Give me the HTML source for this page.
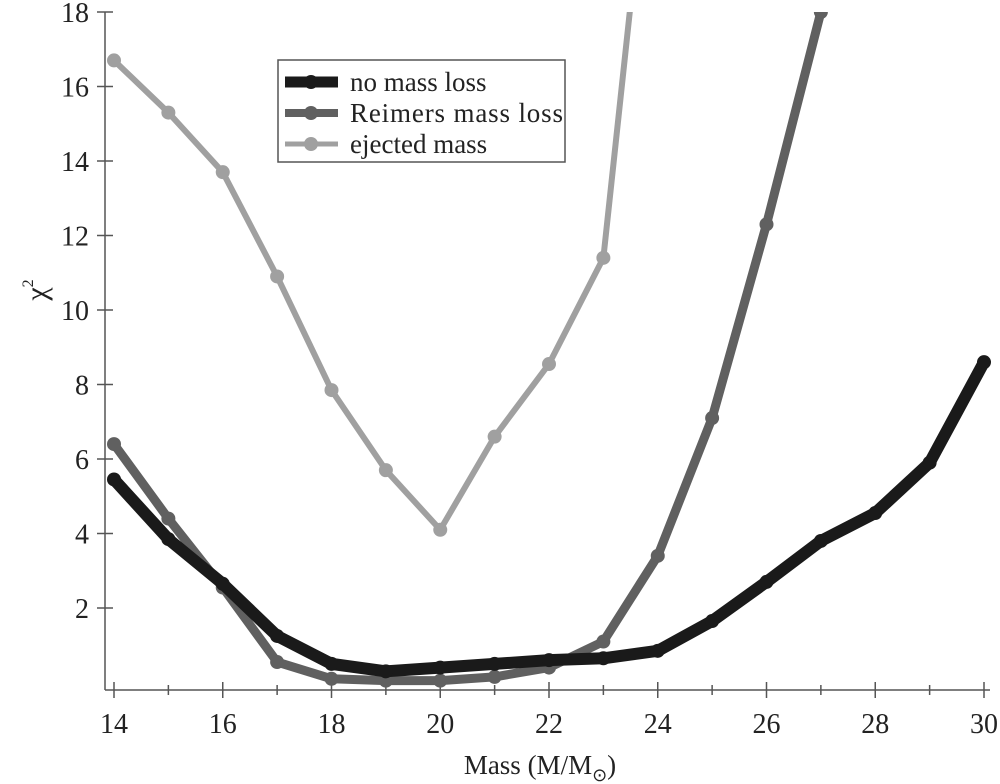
<!DOCTYPE html>
<html><head><meta charset="utf-8"><style>
html,body{margin:0;padding:0;background:#fff}
svg{display:block}
text{font-family:"Liberation Serif",serif;fill:#222}
</style></head><body>
<svg id="chart" width="1000" height="784" viewBox="0 0 1000 784" xmlns="http://www.w3.org/2000/svg">
<defs><clipPath id="plotclip"><rect x="100" y="12" width="900" height="690"/></clipPath></defs>
<g id="axes"></g>
<g id="series" clip-path="url(#plotclip)"></g>
<text x="0" y="0" font-size="30" text-anchor="middle" transform="translate(46,290) rotate(-90)">χ<tspan font-size="16" dy="-13">2</tspan></text>
<text x="540" y="774" font-size="27" text-anchor="middle">Mass (M/M<tspan font-size="18" dy="7">⊙</tspan><tspan dy="-7">)</tspan></text>
<g>
<rect x="278" y="60" width="287" height="102" fill="#fff" stroke="#555" stroke-width="1.5"/>
<g>
<line x1="285" y1="82" x2="338" y2="82" stroke="#1a1a1a" stroke-width="11"/><circle cx="311" cy="82" r="7" fill="#1a1a1a"/>
<text x="350" y="91" font-size="27">no mass loss</text></g>
<g>
<line x1="285" y1="113" x2="338" y2="113" stroke="#606060" stroke-width="8"/><circle cx="311" cy="113" r="7" fill="#606060"/>
<text x="350" y="122" font-size="27" textLength="213">Reimers mass loss</text></g>
<g>
<line x1="285" y1="144" x2="338" y2="144" stroke="#a0a0a0" stroke-width="5"/><circle cx="311" cy="144" r="7" fill="#a0a0a0"/>
<text x="350" y="153" font-size="27">ejected mass</text></g>
</g>
</svg>
<script>
const masses = [14,15,16,17,18,19,20,21,22,23,24,25,26,27,28,29,30];
const noMassLoss = [5.45,3.85,2.65,1.25,0.5,0.3,0.4,0.5,0.6,0.65,0.85,1.65,2.7,3.8,4.55,5.9,8.6];
const reimersMasses = [14,15,16,17,18,19,20,21,22,23,24,25,26,27,28];
const reimers = [6.4,4.4,2.55,0.55,0.1,0.05,0.05,0.15,0.4,1.1,3.4,7.1,12.3,18.0,24.0];
const ejectedMasses = [14,15,16,17,18,19,20,21,22,23,24];
const ejected = [16.7,15.3,13.7,10.9,7.85,5.7,4.1,6.6,8.55,11.4,25.0];
const xTicks = [14,16,18,20,22,24,26,28,30];
const xMinorTicks = [15,17,19,21,23,25,27,29];
const yTicks = [2,4,6,8,10,12,14,16,18];

const NS = "http://www.w3.org/2000/svg";
const X = v => 114 + (v - 14) * 54.375;
const Y = v => 682.5 - v * 37.25;
function mk(tag, attrs, parent){ const e=document.createElementNS(NS,tag); for(const k in attrs) e.setAttribute(k,attrs[k]); parent.appendChild(e); return e; }

const axes = document.getElementById('axes');
const ya = mk('line',{x1:105,y1:12,x2:105,y2:690,stroke:'#555','stroke-width':1.5},axes);


const xa = mk('line',{x1:105,y1:690,x2:990,y2:690,stroke:'#555','stroke-width':1.5},axes);


yTicks.forEach(t=>{
  const l = mk('line',{x1:97,y1:Y(t),x2:113,y2:Y(t),stroke:'#555','stroke-width':1.5},axes);
  
  
  const tx = mk('text',{x:89,y:Y(t)+10,'font-size':28,'text-anchor':'end'},axes);
  tx.textContent = t;
  
  
});
xTicks.forEach(t=>{
  const l = mk('line',{x1:X(t),y1:682,x2:X(t),y2:698,stroke:'#555','stroke-width':1.5},axes);
  
  
  const tx = mk('text',{x:X(t),y:733,'font-size':28,'text-anchor':'middle'},axes);
  tx.textContent = t;
  
  
});
xMinorTicks.forEach(t=>{
  const l = mk('line',{x1:X(t),y1:685,x2:X(t),y2:695,stroke:'#555','stroke-width':1.5},axes);
  
  
});

const series = document.getElementById('series');
function drawSeries(xs, ys, color, w, name){
  const g = mk('g',{},series);
  
  
  const pts = xs.map((x,i)=>X(x)+','+Y(ys[i])).join(' ');
  mk('polyline',{points:pts,fill:'none',stroke:color,'stroke-width':w,'stroke-linejoin':'round','stroke-linecap':'round'},g);
  xs.forEach((x,i)=>{
    const c = mk('circle',{cx:X(x),cy:Y(ys[i]),r:7,fill:color},g);
    
    
  });
}
drawSeries(ejectedMasses, ejected, '#a0a0a0', 6, 'ejected-mass-line');
drawSeries(reimersMasses, reimers, '#606060', 9, 'reimers-line');
drawSeries(masses, noMassLoss, '#1a1a1a', 12, 'no-mass-loss-line');
</script>
</body></html>
